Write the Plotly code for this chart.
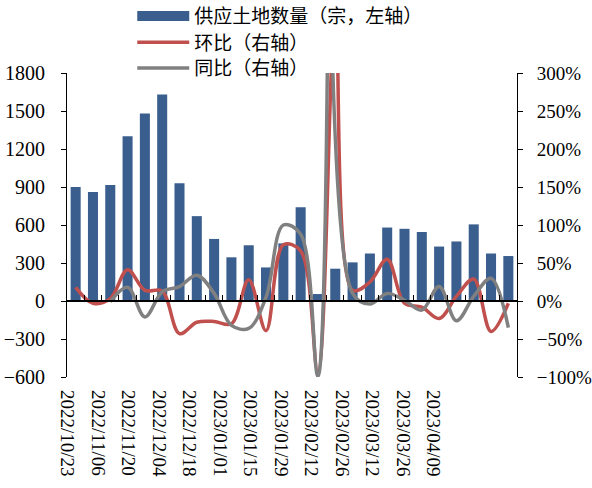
import plotly.graph_objects as go

# Weekly land supply and its week-on-week / year-on-year change
weeks = [
    "2022/10/23", "2022/10/30", "2022/11/06", "2022/11/13", "2022/11/20",
    "2022/11/27", "2022/12/04", "2022/12/11", "2022/12/18", "2022/12/25",
    "2023/01/01", "2023/01/08", "2023/01/15", "2023/01/22", "2023/01/29",
    "2023/02/05", "2023/02/12", "2023/02/19", "2023/02/26", "2023/03/05",
    "2023/03/12", "2023/03/19", "2023/03/26", "2023/04/02", "2023/04/09",
    "2023/04/16",
]
tick_labels = [
    "2022/10/23", "2022/11/06", "2022/11/20", "2022/12/04", "2022/12/18",
    "2023/01/01", "2023/01/15", "2023/01/29", "2023/02/12", "2023/02/26",
    "2023/03/12", "2023/03/26", "2023/04/09",
]
supply = [900, 860, 915, 1300, 1480, 1630, 930, 670, 490, 345, 440, 265, 455,
          740, 55, 255, 305, 375, 580, 570, 545, 430, 470, 605, 375, 355]
mom_pct = [18, -3, 3, 41, 14, 13, -43, -28, -27, -30, 28, -39, 74, 66, -93,
           370, 14, 25, 55, -3, -8, -23, 6, 29, -40, -3]
yoy_pct = [None, None, -1, 18, -21, 12, 19, 34, 10, -32, -36, 5, 100, 88, -99,
           2000, 10, -4, 10, 1, -12, 19, -26, 6, 30, -35]

BAR = "#3A5F8F"
RED = "#C0504D"
GREY = "#808080"
SERIF = "Liberation Serif, Times New Roman, serif"


def to_ratio(values):
    return [None if v is None else v / 100 for v in values]


fig = go.Figure()

fig.add_trace(go.Bar(
    x=weeks, y=supply, marker=dict(color=BAR, line=dict(width=0)),
    showlegend=False, xaxis="x", yaxis="y",
))
fig.add_trace(go.Scatter(
    x=weeks, y=to_ratio(mom_pct), mode="lines", name="环比（右轴）",
    line=dict(color=RED, width=3.5, shape="spline", smoothing=1),
    xaxis="x", yaxis="y2", legend="legend2",
))
fig.add_trace(go.Scatter(
    x=weeks, y=to_ratio(yoy_pct), mode="lines", name="同比（右轴）",
    line=dict(color=GREY, width=3.5, shape="spline", smoothing=1),
    connectgaps=False, xaxis="x", yaxis="y2", legend="legend3",
))
# legend entry for the bars (wide block symbol)
fig.add_trace(go.Scatter(
    x=[None], y=[None], mode="lines", name="供应土地数量（宗，左轴）",
    line=dict(color=BAR, width=12), xaxis="x", yaxis="y", legend="legend",
    hoverinfo="skip",
))
# carrier for the date labels along the bottom
fig.add_trace(go.Scatter(
    x=list(range(len(tick_labels))), y=[None] * len(tick_labels),
    mode="markers", showlegend=False, hoverinfo="skip",
    xaxis="x2", yaxis="y",
))

legend_common = dict(
    xanchor="left", yanchor="middle", bgcolor="rgba(0,0,0,0)",
    font=dict(family="Noto Sans CJK SC", size=19, color="black"),
    itemwidth=52, borderwidth=0,
)
lx = 0.145

fig.update_layout(
    width=592, height=488,
    margin=dict(l=67, r=75, t=73, b=111, pad=0, autoexpand=False),
    paper_bgcolor="white", plot_bgcolor="white",
    font=dict(family=SERIF, size=20, color="black"),
    bargap=0.42,
    xaxis=dict(
        type="category", categoryorder="array", categoryarray=weeks,
        anchor="free", position=0.25,
        showline=True, linecolor="black", linewidth=1.5,
        ticks="inside", ticklen=5, tickcolor="black", tickwidth=1,
        tickson="boundaries", showticklabels=False,
        showgrid=False, zeroline=False,
    ),
    xaxis2=dict(
        overlaying="x", anchor="y", side="bottom",
        range=[-0.016, 14.75], tickvals=list(range(len(tick_labels))),
        ticktext=tick_labels, tickangle=90,
        tickfont=dict(family=SERIF, size=19),
        showline=False, showgrid=False, zeroline=False, ticks="",
        ticklabelstandoff=12,
    ),
    yaxis=dict(
        range=[-600, 1800], dtick=300, tick0=0,
        ticks="outside", ticklen=5, tickcolor="black",
        tickfont=dict(family=SERIF, size=20),
        showline=True, linecolor="black", linewidth=1,
        showgrid=False, zeroline=False, ticklabelstandoff=12,
    ),
    yaxis2=dict(
        overlaying="y", side="right", anchor="x",
        range=[-1, 3], dtick=0.5, tick0=0, tickformat=".0%",
        ticks="outside", ticklen=5, tickcolor="black",
        tickfont=dict(family=SERIF, size=19),
        showline=True, linecolor="black", linewidth=1,
        showgrid=False, zeroline=False, ticklabelstandoff=10,
    ),
    legend=dict(x=lx, y=1.187, **legend_common),
    legend2=dict(x=lx, y=1.101, **legend_common),
    legend3=dict(x=lx, y=1.016, **legend_common),
)

fig.write_html("out.html")
